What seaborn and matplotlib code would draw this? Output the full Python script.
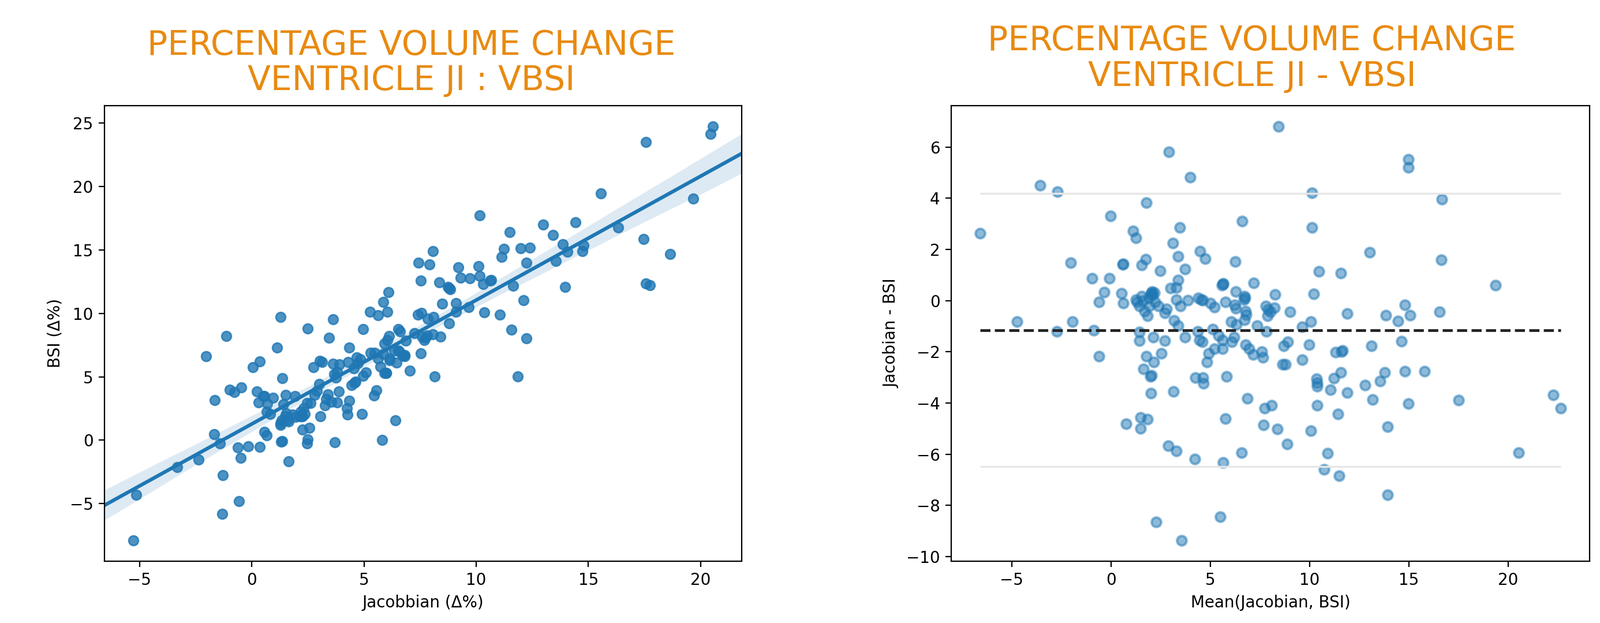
import numpy as np
import pandas as pd
import matplotlib
matplotlib.use('Agg')
import matplotlib.pyplot as plt
import seaborn as sns

"""
Data: percentage volume change per subject, Jacobian integration vs ventricular BSI
"""
jacobian = [
    5.82, -1.31, -0.58, 3.69, 1.65, -5.27, 2.46, 2.49, 4.26, -1.29,
    1.35, 1.31, 2.56, 2.25, -0.50, 0.35, -0.16, -0.63, -5.15, -2.36,
    -3.31, -1.43,
    -1.68, 0.51, 0.57, 0.22, -1.66, -0.78, -0.46, -0.99, -2.04,
    11.84, 6.40, 12.24, 8.15, 11.56, 4.90, 13.96, 5.46, 5.56, 4.25,
    7.03, 11.05, 12.12, 10.35, 11.65, 9.66, 9.11,
    17.73, 17.57, 18.64, 17.45, 19.66, 14.73, 13.56, 14.77, 14.06, 16.33,
    9.11, 8.47, 12.23, 10.30, 10.62, 10.68, 2.75, 3.14, 3.03, 4.35,
    1.36, 4.95, 3.45, 5.64, 6.04, 5.26, 5.87, 6.08, 7.53, 8.36,
    8.83, 8.80, 8.73, 9.31, 9.72, 10.16, 10.10, 9.21, 11.14, 11.23,
    11.98, 0.06, 0.35, 1.13, 2.49, 3.61, 7.91, 7.43, 8.07, 1.28,
    -1.13,
    13.85, 12.39, 13.41, 14.42, 12.98, 15.56, 11.48, 17.57, 20.45, 20.54,
    10.15,
    3.05, 4.34, 3.79, 3.25, 3.54, 5.98, 6.00, 7.53, 0.66, 0.56,
    1.27, 2.25, 2.20, 2.21, 1.63, 1.34, 1.82, 2.18, 1.53, 2.63,
    2.47, 3.31, 3.87, 4.57, 4.63, 2.79, 2.90, 5.10, 5.72, 6.46,
    6.81, 6.80, 6.15, 6.58, 6.35, 5.64, 5.87, 7.69, 7.82, 8.08,
    8.40, 7.59, 8.79, 6.87, 7.24, 0.83, 0.66, 1.41, 1.92, 3.01,
    3.76, 3.68, 3.79, 4.56, 4.74, 4.84, 5.29, 5.48, 5.92, 6.03,
    6.11, 6.60, 6.54, 7.83, 8.10, 7.56, 7.41, 0.69, 1.52, 0.96,
    0.30, 3.90, 3.63, 4.67, 4.29,
    2.13, 1.95, 2.35, 1.28, 1.60, 1.50, 2.30, 5.90, 6.73, 6.15,
    4.95, 4.45, 3.40, 7.73, 6.53,
]
bsi = [
    0.00, -5.81, -4.83, -0.15, -1.67, -7.90, -0.26, 0.04, 2.00, -2.77,
    -0.09, -0.11, 0.95, 0.85, -1.38, -0.53, -0.50, -0.58, -4.33, -1.54,
    -2.12, -0.28,
    0.48, 3.47, 3.49, 3.83, 3.16, 3.78, 4.16, 3.99, 6.60,
    5.03, 1.57, 8.02, 5.04, 8.71, 2.05, 12.08, 3.53, 3.91, 2.51,
    5.49, 9.91, 11.05, 10.08, 12.16, 10.47, 10.14,
    12.20, 12.36, 14.67, 15.85, 19.05, 14.90, 14.13, 15.34, 14.85, 16.77,
    10.83, 10.78, 14.00, 12.32, 12.60, 12.63, 5.75, 6.14, 6.26, 7.30,
    4.91, 8.76, 8.06, 9.85, 10.12, 10.12, 10.88, 11.67, 12.60, 12.44,
    11.88, 12.00, 12.07, 12.79, 12.75, 12.97, 13.70, 13.63, 14.43, 15.10,
    15.13, 5.73, 6.21, 7.31, 8.82, 9.54, 13.88, 14.01, 14.91, 9.71,
    8.23,
    15.43, 15.20, 16.17, 17.18, 16.99, 19.44, 16.41, 23.50, 24.13, 24.75,
    17.73,
    1.88, 3.11, 2.98, 2.76, 3.03, 5.32, 5.32, 6.84, 0.38, 0.66,
    1.22, 1.89, 1.90, 1.99, 1.46, 1.55, 2.03, 2.24, 2.12, 2.95,
    2.94, 3.26, 3.86, 4.52, 4.61, 3.57, 3.87, 5.35, 5.78, 6.10,
    6.64, 6.70, 6.32, 6.98, 7.09, 6.45, 6.79, 7.90, 8.25, 8.36,
    8.15, 8.18, 9.22, 7.84, 8.43, 2.06, 2.23, 2.83, 3.49, 4.43,
    4.95, 5.21, 5.40, 5.68, 6.09, 6.37, 6.90, 6.90, 7.64, 7.90,
    8.21, 8.59, 8.75, 9.59, 9.71, 10.04, 9.90, 2.87, 3.58, 3.36,
    2.97, 5.96, 6.03, 6.54, 6.16,
    1.88, 1.85, 2.05, 1.33, 1.60, 1.90, 2.50, 5.30, 6.68, 6.45,
    5.05, 4.35, 3.60, 8.08, 7.08,
]

titles = ['PERCENTAGE VOLUME CHANGE\nVENTRICLE JI : VBSI',
          'PERCENTAGE VOLUME CHANGE\nVENTRICLE JI - VBSI']

df = pd.DataFrame({'jacobian': jacobian, 'bsi': bsi})
df['mean'] = (df['jacobian'] + df['bsi']) / 2
df['diff'] = df['jacobian'] - df['bsi']

md = df['diff'].mean()
sd = df['diff'].std()

fig = plt.figure(figsize=(13.86, 5.395), dpi=200)
ax1 = fig.add_axes([0.0653, 0.0995, 0.3983, 0.7309])
ax2 = fig.add_axes([0.5945, 0.0995, 0.399, 0.7309])

# Correlation plot
sns.regplot(x='jacobian', y='bsi', data=df, ax=ax1, seed=0, truncate=False)
ax1.set_xlabel('Jacobbian (Δ%)')
ax1.set_ylabel('BSI (Δ%)')

# Bland-Altman plot
sns.scatterplot(x='mean', y='diff', data=df, ax=ax2, alpha=0.5,
                edgecolor='C0', linewidth=1.5, s=36)
xmin, xmax = df['mean'].min(), df['mean'].max()
ax2.hlines(md, xmin, xmax, colors='#222222', linestyles='--', linewidth=1.7)
ax2.hlines(md + 1.96 * sd, xmin, xmax, colors='#e6e6e6', linewidth=1.2)
ax2.hlines(md - 1.96 * sd, xmin, xmax, colors='#e6e6e6', linewidth=1.2)
ax2.set_xlabel('Mean(Jacobian, BSI)')
ax2.set_ylabel('Jacobian - BSI')

fig.text(0.257, 0.899, titles[0], ha='center', va='center',
         color='#e88a10', fontsize=21, family='DejaVu Sans', linespacing=1.1)
fig.text(0.7825, 0.906, titles[1], ha='center', va='center',
         color='#e88a10', fontsize=21, family='DejaVu Sans', linespacing=1.1)

fig.savefig('out.png', dpi=200)
plt.close()
